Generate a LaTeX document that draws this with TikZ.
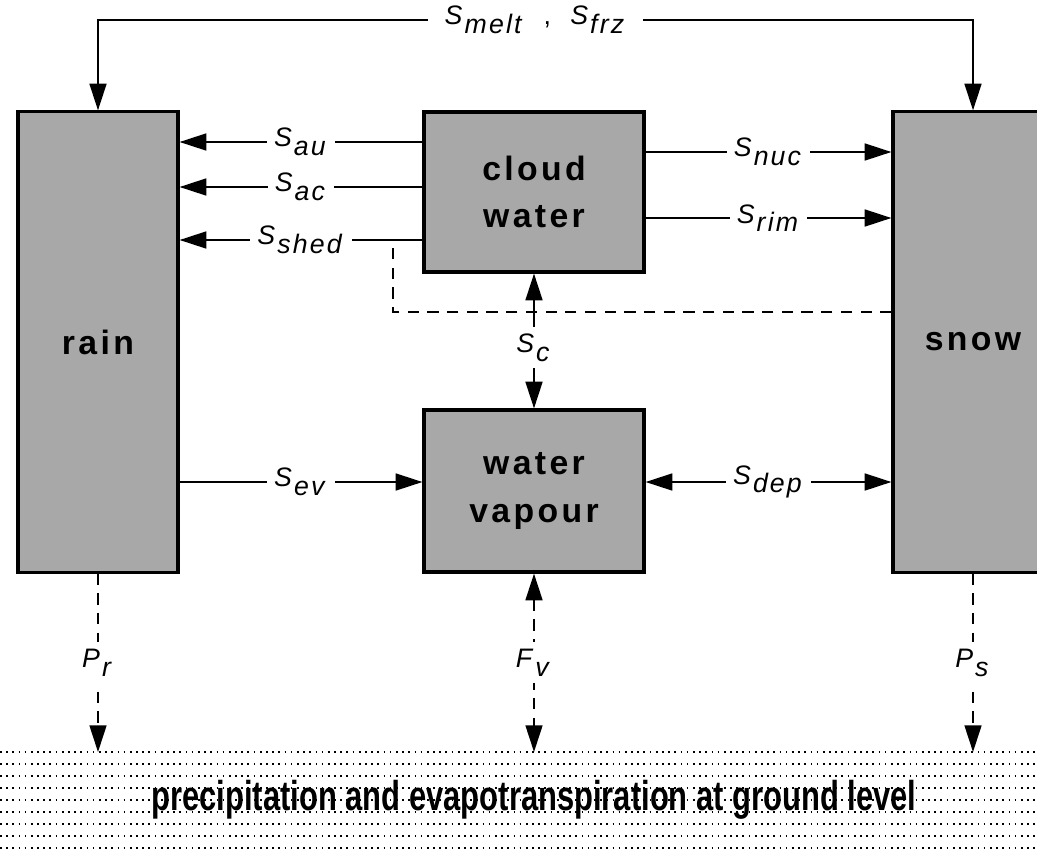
\documentclass[tikz,border=0pt]{standalone}
\usepackage{fontspec}
\setmainfont{Liberation Sans}
\usepackage{tikz}
\usetikzlibrary{arrows.meta, positioning, calc}
\definecolor{BoxGray}{RGB}{168,168,168}
\newcommand{\flux}[2]{\textit{#1}\raisebox{-0.6ex}{\textit{#2}}}

\begin{document}
\begin{tikzpicture}[x=0.025cm, y=-0.025cm,
            box/.style={rectangle, draw=black, line width=2.2pt, fill=BoxGray, align=center,
                        font=\fontsize{24}{34}\selectfont\bfseries\addfontfeature{LetterSpace=10}},
            flow/.style={line width=1.4pt, -{Triangle[length=19pt, width=12pt]}},
            twoway/.style={line width=1.4pt, {Triangle[length=19pt, width=12pt]}-{Triangle[length=19pt, width=12pt]}},
            lbl/.style={fill=white, inner sep=5pt,
                        font=\fontsize{19}{21}\selectfont\addfontfeature{LetterSpace=8}},
            gdash/.style={dash pattern=on 8pt off 6pt}
          ]
          \useasboundingbox (0,0) rectangle (1037,849);
          \fill[white] (0,0) rectangle (1037,849);

          % ground level
          \foreach \yy in {752,764,...,848}
            \draw[black, line width=1.2pt, dash pattern=on 1.2pt off 3.2pt] (0,\yy) -- (1037,\yy);
          \coordinate (gtop) at (0,752);
          \node[font=\fontsize{22}{26}\selectfont\bfseries] (gtext) at (534,800)
                {\scalebox{1}[1.35]{precipitation and evapotranspiration at ground level}};

          % the four stores
          \node[box, minimum width=4cm, minimum height=11.5cm] (rain) at (98,342) {rain};
          \node[box, minimum width=4cm, minimum height=11.5cm] (snow) at (973,342) {snow};
          \node[box, minimum width=5.5cm, minimum height=4cm] (cloud) at (534,192) {cloud\\water};
          \node[box, minimum width=5.5cm, minimum height=4.05cm] (vapour) at (534,491) {water\\vapour};

          % melting / freezing
          \coordinate (tl) at (0,20);
          \draw[twoway] (rain.north) -- (rain.north |- tl)
                -- node[lbl, inner xsep=12pt]{\flux{S}{melt}\ \ ,\ \ \flux{S}{frz}} (snow.north |- tl) -- (snow.north);

          % cloud water -> rain
          \foreach \yy/\sub in {142/au, 187/ac, 240/shed} {
            \coordinate (h) at (0,\yy);
            \draw[flow] (cloud.west |- h) -- node[lbl]{\flux{S}{\sub}} (rain.east |- h);
          }
          % cloud water -> snow
          \foreach \yy/\sub in {152/nuc, 218/rim} {
            \coordinate (h) at (0,\yy);
            \draw[flow] (cloud.east |- h) -- node[lbl]{\flux{S}{\sub}} (snow.west |- h);
          }
          % shedding from riming
          \coordinate (dl) at (0,312);
          \coordinate (shedpt) at (393,240);
          \draw[line width=1.4pt, gdash] (snow.west |- dl) -| (shedpt);

          % condensation
          \draw[twoway] (cloud.south) -- node[lbl, pos=0.55]{\flux{S}{c}} (vapour.north);

          % evaporation / deposition
          \coordinate (hv) at (0,482);
          \draw[flow] (rain.east |- hv) -- node[lbl]{\flux{S}{ev}} (vapour.west |- hv);
          \draw[twoway] (vapour.east |- hv) -- node[lbl]{\flux{S}{dep}} (snow.west |- hv);

          % fluxes at ground level
          \draw[flow, gdash] (rain.south) -- node[lbl]{\flux{P}{r}} (rain.south |- gtop);
          \draw[twoway, gdash] (vapour.south) -- node[lbl]{\flux{F}{v}} (vapour.south |- gtop);
          \draw[flow, gdash] (snow.south) -- node[lbl]{\flux{P}{s}} (snow.south |- gtop);
        \end{tikzpicture}
\end{document}
